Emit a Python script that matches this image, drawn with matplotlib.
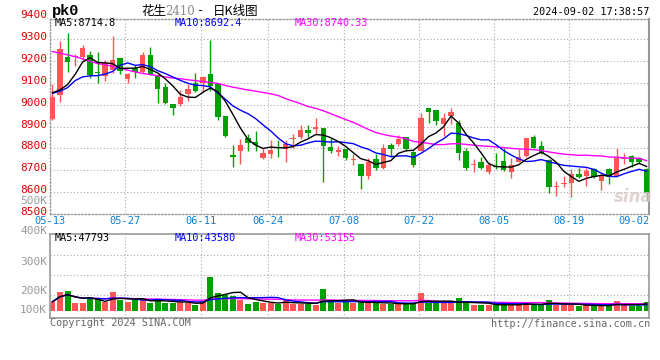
import numpy as np
import pandas as pd
import matplotlib
matplotlib.use("Agg")
import matplotlib.pyplot as plt
import matplotlib.transforms as mtransforms

# trading days 05-13 .. 09-02 (06-10 was a holiday)
days = pd.bdate_range("2024-05-13", "2024-09-02")
days = days[days != pd.Timestamp("2024-06-10")]
date_labels = ["05-13", "05-27", "06-11", "06-24", "07-08", "07-22", "08-05", "08-19", "09-02"]

opens = [8935, 9044, 9219, 9216, 9219, 9227, 9151, 9133, 9160, 9212,
         9119, 9170, 9149, 9229, 9138, 9081, 9002, 9002, 9047, 9100,
         9100, 9141, 9096, 8947, 8771, 8789, 8846, 8830, 8758, 8774,
         8807, 8796, 8843, 8850, 8883, 8890, 8892, 8805, 8782, 8796,
         8749, 8728, 8675, 8751, 8710, 8815, 8819, 8850, 8784, 8789,
         8983, 8976, 8910, 8948, 8918, 8789, 8722, 8736, 8693, 8720,
         8743, 8693, 8739, 8766, 8853, 8812, 8746, 8624, 8638, 8644,
         8682, 8675, 8705, 8652, 8705, 8675, 8753, 8767, 8754, 8705]
highs = [9093, 9293, 9330, 9234, 9275, 9246, 9239, 9205, 9315, 9215,
         9145, 9182, 9242, 9264, 9140, 9100, 9005, 9065, 9096, 9146,
         9130, 9298, 9100, 8950, 8815, 8842, 8865, 8880, 8804, 8840,
         8840, 8838, 8864, 8906, 8906, 8940, 8895, 8846, 8810, 8796,
         8774, 8730, 8758, 8775, 8822, 8827, 8860, 8853, 8786, 8960,
         8985, 8978, 8964, 8985, 8930, 8800, 8751, 8763, 8736, 8778,
         8804, 8755, 8796, 8847, 8862, 8834, 8750, 8652, 8672, 8705,
         8710, 8710, 8710, 8682, 8710, 8801, 8777, 8771, 8758, 8710]
lows = [8930, 9012, 9148, 9175, 9205, 9121, 9100, 9107, 9145, 9142,
        9100, 9122, 9145, 9135, 9009, 9005, 8953, 8994, 9017, 9059,
        9059, 9062, 8932, 8852, 8716, 8731, 8789, 8790, 8751, 8758,
        8763, 8736, 8800, 8842, 8850, 8868, 8648, 8781, 8764, 8748,
        8725, 8614, 8658, 8702, 8705, 8761, 8812, 8790, 8717, 8789,
        8918, 8906, 8857, 8910, 8748, 8700, 8693, 8705, 8682, 8705,
        8698, 8663, 8739, 8761, 8800, 8773, 8594, 8584, 8622, 8576,
        8665, 8629, 8665, 8611, 8637, 8675, 8731, 8716, 8735, 8560]
closes = [9035, 9257, 9197, 9225, 9260, 9137, 9145, 9190, 9205, 9152,
          9142, 9148, 9227, 9138, 9070, 9009, 8986, 9035, 9074, 9062,
          9126, 9085, 8944, 8857, 8762, 8815, 8827, 8815, 8781, 8793,
          8801, 8822, 8846, 8883, 8869, 8896, 8812, 8786, 8795, 8756,
          8753, 8675, 8738, 8712, 8800, 8796, 8842, 8796, 8723, 8941,
          8967, 8926, 8938, 8968, 8781, 8710, 8727, 8710, 8723, 8715,
          8702, 8723, 8763, 8847, 8804, 8777, 8625, 8628, 8642, 8682,
          8670, 8695, 8667, 8672, 8667, 8758, 8758, 8736, 8739, 8596]
volumes = [63, 133, 140, 51, 51, 79, 82, 63, 133, 75,
           63, 75, 75, 56, 82, 56, 56, 58, 51, 40,
           63, 236, 126, 107, 103, 75, 47, 63, 56, 56,
           47, 75, 47, 47, 47, 40, 152, 63, 51, 63,
           51, 75, 51, 51, 47, 47, 51, 47, 51, 126,
           56, 51, 51, 51, 91, 51, 40, 40, 40, 40,
           47, 40, 40, 61, 40, 40, 75, 40, 40, 40,
           33, 40, 33, 33, 40, 70, 40, 33, 33, 63]
volumes = [v * 1000 for v in volumes]

# moving-average values before a full window exists
ma5_head = [9055, 9068, 9092, 9138]
ma10_head = [9052, 9062, 9078, 9110, 9127, 9132, 9133, 9140, 9152]
ma30_head = [9243, 9236, 9228, 9220, 9210, 9198, 9188, 9183, 9175, 9168,
             9158, 9150, 9143, 9138, 9132, 9127, 9122, 9119, 9114, 9110,
             9106, 9102, 9097, 9088, 9080, 9074, 9067, 9062, 9056]

price_ticks = [8500, 8600, 8700, 8800, 8900, 9000, 9100, 9200, 9300, 9400]
vol_labels = ["500K", "400K", "300K", "200K", "100K"]
vol_grid = [110000, 250000, 390000]

RED = "#ff5555"
GREEN = "#00a000"
GRID = "#aaaaaa"
FRAME = "#999999"
MONO = "DejaVu Sans Mono"

W, H = 660, 360
def fx(px):
    return px / W
def fy(py):
    return 1 - py / H

x = np.arange(len(closes))
o = np.array(opens, float)
c = np.array(closes, float)
hi = np.array(highs, float)
lo = np.array(lows, float)
up = c >= o
colors = np.where(up, RED, GREEN)

cs = pd.Series(c)
ma5 = cs.rolling(5).mean().values
ma5[:len(ma5_head)] = ma5_head
ma10 = cs.rolling(10).mean().values
ma10[:len(ma10_head)] = ma10_head
ma30 = cs.rolling(30).mean().values
ma30[:len(ma30_head)] = ma30_head

vs = pd.Series(volumes, dtype=float)
vma5 = vs.rolling(5, min_periods=1).mean().values
vma10 = vs.rolling(10, min_periods=1).mean().values
vma30 = vs.rolling(30, min_periods=1).mean().values

fig = plt.figure(figsize=(6.6, 3.6), dpi=100)
ax = fig.add_axes([fx(50.3), fy(214), fx(649.3) - fx(50.3), fy(19) - fy(214)])
axv = fig.add_axes([fx(50.3), fy(318), fx(649.3) - fx(50.3), fy(234.3) - fy(318)])

xlim = (-0.29, len(x) - 1 + 0.36)
tick_idx = [list(days.strftime("%m-%d")).index(d) for d in date_labels]

# ---- price panel
ax.set_xlim(*xlim)
ax.set_ylim(8500, 9392)
for p in price_ticks[1:-1]:
    ax.axhline(p, color=GRID, lw=0.8, ls=(0, (1, 2)), zorder=0)
for i in tick_idx[1:-1]:
    ax.axvline(i - 0.3, color=GRID, lw=0.8, ls=(0, (1, 2)), zorder=0)

ax.vlines(x, lo, hi, colors=colors, lw=1.0, zorder=2)
body = np.maximum(np.abs(c - o), 4)
ax.bar(x, body, bottom=np.minimum(o, c), width=0.72, color=colors, lw=0, zorder=3)

ax.plot(x, ma30, color="#ff00ff", lw=1.0, zorder=4)
ax.plot(x, ma10, color="#0000ff", lw=1.0, zorder=4)
ax.plot(x, ma5, color="black", lw=1.0, zorder=4)

ax.set_xticks([])
ax.set_yticks([])
for side in ["left", "top", "bottom"]:
    ax.spines[side].set_color(FRAME)
    ax.spines[side].set_linestyle((0, (1, 1.5)))
    ax.spines[side].set_linewidth(1)
ax.spines["right"].set_color(FRAME)
ax.spines["right"].set_linewidth(1.5)

ytrans = mtransforms.offset_copy(ax.get_yaxis_transform(), fig=fig, x=-3, y=2, units="dots")
for p in price_ticks:
    ax.text(0, p, str(p), transform=ytrans, ha="right", va="center",
            color="#e00000", fontsize=8, family=MONO, clip_on=False)

xtrans = mtransforms.offset_copy(ax.get_xaxis_transform(), fig=fig, y=-7, units="dots")
for lab, i in zip(date_labels, tick_idx):
    if i == tick_idx[-1]:
        ax.text(1.0, 0, lab, transform=mtransforms.offset_copy(ax.transAxes, fig=fig, y=-7, units="dots"),
                ha="right", va="center", color="#0a7fd6", fontsize=7.5, family=MONO)
    else:
        ax.text(i - 0.3, 0, lab, transform=xtrans, ha="center", va="center",
                color="#0a7fd6", fontsize=7.5, family=MONO, clip_on=False)

# ---- volume panel
axv.set_xlim(*xlim)
axv.set_ylim(-51100, 534800)
for v in vol_grid:
    axv.axhline(v, color=GRID, lw=0.8, ls=(0, (1, 2)), zorder=0)
for i in tick_idx[1:-1]:
    axv.axvline(i - 0.3, color=GRID, lw=0.8, ls=(0, (1, 2)), zorder=0)
axv.bar(x, volumes, width=0.8, color=colors, lw=0, zorder=2)
axv.plot(x, vma30, color="#ff00ff", lw=1.0, zorder=3)
axv.plot(x, vma10, color="#0000ff", lw=1.0, zorder=3)
axv.plot(x, vma5, color="black", lw=1.0, zorder=3)
axv.set_xticks([])
axv.set_yticks([])
for s in axv.spines.values():
    s.set_color(FRAME)
    s.set_linewidth(1.2)

for lab, py in zip(vol_labels, [201, 231, 262, 291, 310]):
    fig.text(fx(47), fy(py), lab, ha="right", va="center", color="#999999",
             fontsize=8, family=MONO)

# ---- texts
fig.text(fx(52), fy(11), "pk0", ha="left", va="center", fontsize=11,
         weight="bold", family="Liberation Mono", color="black")
cjk = ["Noto Sans CJK SC", "DejaVu Sans"]
fig.text(fx(141), fy(11), "花生", ha="left", va="center", fontsize=9, family=cjk)
fig.text(fx(165), fy(11.5), "2410", ha="left", va="center", fontsize=8.5,
         family="DejaVu Serif", color="#888888")
fig.text(fx(197), fy(11), "-", ha="left", va="center", fontsize=9, family=MONO)
fig.text(fx(213), fy(11), "日K线图", ha="left", va="center", fontsize=9, family=cjk)
fig.text(fx(649), fy(12), days[-1].strftime("%Y-%m-%d") + " 17:38:57", ha="right",
         va="center", fontsize=7.3, family=MONO, color="black")

fig.text(fx(54.5), fy(23), "MA5:%.1f" % 8714.8, ha="left", va="center",
         fontsize=7.3, family=MONO, color="black")
fig.text(fx(174.5), fy(23), "MA10:%.1f" % 8692.4, ha="left", va="center",
         fontsize=7.3, family=MONO, color="#0000ff")
fig.text(fx(294.5), fy(23), "MA30:%.2f" % 8740.33, ha="left", va="center",
         fontsize=7.3, family=MONO, color="#ff00ff")

fig.text(fx(54.5), fy(238), "MA5:47793", ha="left", va="center",
         fontsize=7.3, family=MONO, color="black")
fig.text(fx(174.5), fy(238), "MA10:43580", ha="left", va="center",
         fontsize=7.3, family=MONO, color="#0000ff")
fig.text(fx(294.5), fy(238), "MA30:53155", ha="left", va="center",
         fontsize=7.3, family=MONO, color="#ff00ff")

fig.text(fx(50), fy(323.5), "Copyright 2024 SINA.COM", ha="left", va="center",
         fontsize=7.3, family=MONO, color="#666666")
fig.text(fx(650), fy(324), "http://finance.sina.com.cn", ha="right", va="center",
         fontsize=7.3, family=MONO, color="#666666")

# faint sina watermark
fig.text(fx(633), fy(197), "sina", ha="center", va="center", fontsize=12,
         style="italic", weight="bold", color="#d8c8c8", alpha=0.8)

fig.savefig("out.png", dpi=100)
